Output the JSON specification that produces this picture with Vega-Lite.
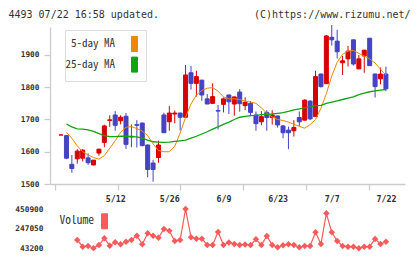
{
  "$schema": "https://vega.github.io/schema/vega-lite/v6.json",
  "width": 355,
  "height": 224,
  "autosize": {"type": "none"},
  "padding": {"left": 50, "top": 27, "right": 15, "bottom": 8},
  "background": "white",
  "config": {
    "view": {"stroke": null},
    "font": "DejaVu Sans Mono",
    "axis": {"grid": false}
  },
  "data": {
    "values": [
      {"n": 0, "d": "4/23", "o": 1652, "h": 1652, "l": 1652, "c": 1652, "v": null, "ma5": null, "ma25": null},
      {"n": 1, "d": "4/24", "o": 1650, "h": 1651, "l": 1577, "c": 1580, "v": null, "ma5": 1660, "ma25": 1686},
      {"n": 2, "d": "4/25", "o": 1561, "h": 1590, "l": 1535, "c": 1548, "v": null, "ma5": 1642, "ma25": 1677},
      {"n": 3, "d": "4/28", "o": 1578, "h": 1608, "l": 1563, "c": 1602, "v": 129300, "ma5": 1618, "ma25": 1671},
      {"n": 4, "d": "4/30", "o": 1580, "h": 1608, "l": 1570, "c": 1605, "v": 59800, "ma5": 1600, "ma25": 1670},
      {"n": 5, "d": "5/1", "o": 1581, "h": 1595, "l": 1559, "c": 1566, "v": 67100, "ma5": 1590, "ma25": 1668},
      {"n": 6, "d": "5/2", "o": 1559, "h": 1574, "l": 1558, "c": 1574, "v": 45000, "ma5": 1582, "ma25": 1663},
      {"n": 7, "d": "5/7", "o": 1596, "h": 1609, "l": 1588, "c": 1608, "v": 77400, "ma5": 1577, "ma25": 1656},
      {"n": 8, "d": "5/8", "o": 1629, "h": 1684, "l": 1614, "c": 1680, "v": 146900, "ma5": 1588, "ma25": 1650},
      {"n": 9, "d": "5/9", "o": 1697, "h": 1713, "l": 1677, "c": 1699, "v": 70200, "ma5": 1611, "ma25": 1647},
      {"n": 10, "d": "5/12", "o": 1714, "h": 1726, "l": 1665, "c": 1682, "v": 105400, "ma5": 1634, "ma25": 1647},
      {"n": 11, "d": "5/13", "o": 1696, "h": 1713, "l": 1685, "c": 1707, "v": 84700, "ma5": 1660, "ma25": 1648},
      {"n": 12, "d": "5/14", "o": 1710, "h": 1720, "l": 1609, "c": 1623, "v": 111700, "ma5": 1676, "ma25": 1648},
      {"n": 13, "d": "5/15", "o": 1648, "h": 1685, "l": 1614, "c": 1646, "v": 129300, "ma5": 1678, "ma25": 1647},
      {"n": 14, "d": "5/16", "o": 1684, "h": 1698, "l": 1613, "c": 1682, "v": 173900, "ma5": 1672, "ma25": 1646},
      {"n": 15, "d": "5/19", "o": 1689, "h": 1690, "l": 1617, "c": 1619, "v": 84700, "ma5": 1664, "ma25": 1642},
      {"n": 16, "d": "5/20", "o": 1621, "h": 1622, "l": 1521, "c": 1545, "v": 198800, "ma5": 1650, "ma25": 1636},
      {"n": 17, "d": "5/21", "o": 1565, "h": 1575, "l": 1507, "c": 1545, "v": 173900, "ma5": 1624, "ma25": 1631},
      {"n": 18, "d": "5/22", "o": 1582, "h": 1634, "l": 1566, "c": 1621, "v": 153200, "ma5": 1604, "ma25": 1630},
      {"n": 19, "d": "5/23", "o": 1714, "h": 1721, "l": 1659, "c": 1659, "v": 243400, "ma5": 1600, "ma25": 1629},
      {"n": 20, "d": "5/26", "o": 1693, "h": 1742, "l": 1665, "c": 1720, "v": 224000, "ma5": 1600, "ma25": 1630},
      {"n": 21, "d": "5/27", "o": 1717, "h": 1728, "l": 1688, "c": 1720, "v": 118900, "ma5": 1617, "ma25": 1632},
      {"n": 22, "d": "5/28", "o": 1720, "h": 1721, "l": 1666, "c": 1707, "v": 129300, "ma5": 1658, "ma25": 1634},
      {"n": 23, "d": "5/29", "o": 1707, "h": 1869, "l": 1706, "c": 1838, "v": 450900, "ma5": 1707, "ma25": 1636},
      {"n": 24, "d": "5/30", "o": 1845, "h": 1866, "l": 1793, "c": 1812, "v": 157300, "ma5": 1748, "ma25": 1642},
      {"n": 25, "d": "6/2", "o": 1812, "h": 1851, "l": 1771, "c": 1833, "v": 142800, "ma5": 1776, "ma25": 1648},
      {"n": 26, "d": "6/3", "o": 1822, "h": 1823, "l": 1758, "c": 1776, "v": 142800, "ma5": 1790, "ma25": 1655},
      {"n": 27, "d": "6/4", "o": 1764, "h": 1779, "l": 1748, "c": 1748, "v": 77400, "ma5": 1797, "ma25": 1662},
      {"n": 28, "d": "6/5", "o": 1750, "h": 1812, "l": 1750, "c": 1771, "v": 77400, "ma5": 1799, "ma25": 1670},
      {"n": 29, "d": "6/6", "o": 1728, "h": 1745, "l": 1669, "c": 1726, "v": 212300, "ma5": 1788, "ma25": 1677},
      {"n": 30, "d": "6/9", "o": 1747, "h": 1768, "l": 1722, "c": 1764, "v": 77400, "ma5": 1770, "ma25": 1685},
      {"n": 31, "d": "6/10", "o": 1776, "h": 1777, "l": 1717, "c": 1755, "v": 103400, "ma5": 1764, "ma25": 1692},
      {"n": 32, "d": "6/11", "o": 1748, "h": 1771, "l": 1712, "c": 1770, "v": 87800, "ma5": 1764, "ma25": 1700},
      {"n": 33, "d": "6/12", "o": 1785, "h": 1794, "l": 1724, "c": 1749, "v": 77400, "ma5": 1762, "ma25": 1707},
      {"n": 34, "d": "6/13", "o": 1743, "h": 1769, "l": 1729, "c": 1753, "v": 82600, "ma5": 1757, "ma25": 1710},
      {"n": 35, "d": "6/16", "o": 1750, "h": 1757, "l": 1710, "c": 1722, "v": 77400, "ma5": 1754, "ma25": 1712},
      {"n": 36, "d": "6/17", "o": 1714, "h": 1725, "l": 1665, "c": 1687, "v": 136600, "ma5": 1750, "ma25": 1713},
      {"n": 37, "d": "6/18", "o": 1693, "h": 1726, "l": 1682, "c": 1709, "v": 77400, "ma5": 1736, "ma25": 1715},
      {"n": 38, "d": "6/19", "o": 1722, "h": 1729, "l": 1665, "c": 1706, "v": 170800, "ma5": 1720, "ma25": 1716},
      {"n": 39, "d": "6/20", "o": 1706, "h": 1729, "l": 1684, "c": 1714, "v": 77400, "ma5": 1708, "ma25": 1717},
      {"n": 40, "d": "6/23", "o": 1711, "h": 1712, "l": 1675, "c": 1683, "v": 53600, "ma5": 1700, "ma25": 1719},
      {"n": 41, "d": "6/24", "o": 1680, "h": 1683, "l": 1642, "c": 1659, "v": 74300, "ma5": 1697, "ma25": 1721},
      {"n": 42, "d": "6/25", "o": 1667, "h": 1678, "l": 1608, "c": 1659, "v": 85700, "ma5": 1692, "ma25": 1725},
      {"n": 43, "d": "6/26", "o": 1665, "h": 1698, "l": 1647, "c": 1675, "v": 77400, "ma5": 1685, "ma25": 1730},
      {"n": 44, "d": "6/27", "o": 1706, "h": 1725, "l": 1680, "c": 1693, "v": 53600, "ma5": 1679, "ma25": 1733},
      {"n": 45, "d": "6/30", "o": 1698, "h": 1763, "l": 1697, "c": 1760, "v": 67100, "ma5": 1673, "ma25": 1736},
      {"n": 46, "d": "7/1", "o": 1757, "h": 1760, "l": 1698, "c": 1702, "v": 67100, "ma5": 1684, "ma25": 1739},
      {"n": 47, "d": "7/2", "o": 1709, "h": 1851, "l": 1708, "c": 1833, "v": 209200, "ma5": 1700, "ma25": 1742},
      {"n": 48, "d": "7/3", "o": 1841, "h": 1842, "l": 1799, "c": 1802, "v": 87800, "ma5": 1735, "ma25": 1744},
      {"n": 49, "d": "7/4", "o": 1811, "h": 1962, "l": 1810, "c": 1959, "v": 406300, "ma5": 1780, "ma25": 1750},
      {"n": 50, "d": "7/7", "o": 1955, "h": 1993, "l": 1929, "c": 1947, "v": 209200, "ma5": 1835, "ma25": 1754},
      {"n": 51, "d": "7/8", "o": 1943, "h": 1978, "l": 1889, "c": 1910, "v": 118900, "ma5": 1878, "ma25": 1758},
      {"n": 52, "d": "7/9", "o": 1876, "h": 1897, "l": 1838, "c": 1882, "v": 67100, "ma5": 1902, "ma25": 1762},
      {"n": 53, "d": "7/10", "o": 1888, "h": 1928, "l": 1864, "c": 1912, "v": 59800, "ma5": 1912, "ma25": 1766},
      {"n": 54, "d": "7/11", "o": 1947, "h": 1948, "l": 1867, "c": 1872, "v": 59800, "ma5": 1914, "ma25": 1770},
      {"n": 55, "d": "7/14", "o": 1857, "h": 1900, "l": 1856, "c": 1888, "v": 43200, "ma5": 1905, "ma25": 1777},
      {"n": 56, "d": "7/15", "o": 1897, "h": 1916, "l": 1845, "c": 1915, "v": 59800, "ma5": 1897, "ma25": 1782},
      {"n": 57, "d": "7/16", "o": 1952, "h": 1953, "l": 1866, "c": 1867, "v": 59800, "ma5": 1888, "ma25": 1786},
      {"n": 58, "d": "7/17", "o": 1841, "h": 1842, "l": 1768, "c": 1802, "v": 139700, "ma5": 1875, "ma25": 1789},
      {"n": 59, "d": "7/18", "o": 1826, "h": 1861, "l": 1809, "c": 1841, "v": 87800, "ma5": 1856, "ma25": 1791},
      {"n": 60, "d": "7/22", "o": 1841, "h": 1864, "l": 1788, "c": 1795, "v": 111700, "ma5": 1838, "ma25": 1793}
    ]
  },
  "layer": [
    {
      "layer": [
        {
          "mark": {"type": "rule", "strokeWidth": 1},
          "encoding": {
            "x": {
              "field": "n", "type": "quantitative",
              "scale": {"domain": [-1.113, 62.6], "nice": false, "zero": false},
              "axis": {
                "orient": "bottom", "offset": -67,
                "values": [10, 20, 30, 40, 50, 60],
                "labelExpr": "['5/12','5/26','6/9','6/23','7/7','7/22'][datum.value / 10 - 1]",
                "ticks": false, "domainColor": "#cccccc", "domainWidth": 1.3,
                "labelPadding": 10, "labelFont": "DejaVu Sans Mono", "labelFontSize": 8.3,
                "labelFontWeight": "bold", "labelColor": "#333333", "title": null
              }
            },
            "y": {
              "field": "l", "type": "quantitative",
              "scale": {"domain": [1500, 1986.8], "range": [157, 0], "nice": false, "zero": false},
              "axis": {
                "orient": "left",
                "values": [1500, 1600, 1700, 1800, 1900], "format": "d",
                "domainColor": "#cccccc", "domainWidth": 1.3,
                "tickColor": "#cccccc", "tickWidth": 1.3, "tickSize": 6,
                "labelPadding": 5, "labelFont": "DejaVu Sans Mono", "labelFontSize": 7.8,
                "labelFontWeight": "bold", "labelColor": "#333333",
                "title": "4493 07/22 16:58 updated.", "titleAngle": 0, "titleAlign": "left",
                "titleBaseline": "alphabetic", "titleX": -42, "titleY": -10,
                "titleFont": "DejaVu Sans Mono", "titleFontSize": 10, "titleFontWeight": "normal",
                "titleColor": "#333333"
              }
            },
            "y2": {"field": "h"},
            "color": {"condition": {"test": "datum.c >= datum.o", "value": "#d80000"}, "value": "#4343c3"}
          }
        },
        {
          "mark": {"type": "bar", "size": 4, "strokeWidth": 1},
          "encoding": {
            "x": {"field": "n", "type": "quantitative"},
            "y": {"field": "o", "type": "quantitative"},
            "y2": {"field": "c"},
            "color": {"condition": {"test": "datum.c >= datum.o", "value": "#d80000"}, "value": "#4343c3"},
            "stroke": {"condition": {"test": "datum.c >= datum.o", "value": "#d80000"}, "value": "#4343c3"}
          }
        },
        {
          "mark": {"type": "line", "strokeWidth": 1},
          "encoding": {
            "x": {"field": "n", "type": "quantitative"},
            "y": {"field": "ma5", "type": "quantitative"},
            "color": {
              "datum": "5-day MA",
              "scale": {"domain": ["5-day MA", "25-day MA"], "range": ["#ee8800", "#11a311"]},
              "legend": {
                "orient": "none", "legendX": 15, "legendY": 3,
                "title": null, "direction": "vertical",
                "padding": 6, "rowPadding": 0.6,
                "fillColor": "white", "strokeColor": "#dddddd",
                "symbolType": "M-0.4,-1L0.4,-1L0.4,1L-0.4,1Z", "symbolSize": 225,
                "symbolOffset": 55.5, "labelOffset": -27.5, "labelAlign": "right", "labelBaseline": "middle",
                "labelFont": "Noto Sans Mono CJK JP", "labelFontSize": 11, "labelColor": "#333333",
                "encode": {
                  "symbols": {
                    "update": {
                      "fill": {"signal": "datum.value === '5-day MA' ? '#ee8800' : '#11a311'"},
                      "stroke": {"value": "#333333"},
                      "strokeWidth": {"value": 1},
                      "opacity": {"value": 1}
                    }
                  }
                }
              }
            }
          }
        },
        {
          "mark": {"type": "line", "strokeWidth": 1.3},
          "encoding": {
            "x": {"field": "n", "type": "quantitative"},
            "y": {"field": "ma25", "type": "quantitative"},
            "color": {"datum": "25-day MA"}
          }
        }
      ]
    },
    {
      "layer": [
        {
          "mark": {"type": "line", "strokeWidth": 1.2},
          "encoding": {
            "x": {
              "field": "n", "type": "quantitative",
              "scale": {"domain": [-1.113, 62.6], "nice": false, "zero": false},
              "axis": {
                "orient": "bottom", "offset": -67,
                "values": [-1.113, 4.679, 10.47, 16.26, 22.05, 27.85, 33.64, 39.43, 45.22, 51.01, 56.8, 62.6],
                "labels": false, "domain": false, "ticks": true,
                "tickSize": 6, "tickColor": "#cccccc", "tickWidth": 1.3, "title": null
              }
            },
            "y": {
              "field": "v", "type": "quantitative",
              "scale": {"domain": [43200, 450900], "range": [221.3, 182], "nice": false, "zero": false},
              "axis": {
                "orient": "left",
                "values": [43200, 247050, 450900], "format": "d",
                "domain": false, "ticks": false, "labelPadding": 7,
                "labelFont": "DejaVu Sans Mono", "labelFontSize": 7.8, "labelFontWeight": "bold",
                "labelColor": "#333333", "labelBaseline": "middle",
                "title": "(C)https://www.rizumu.net/", "titleAngle": 0, "titleAlign": "right",
                "titleBaseline": "alphabetic", "titleX": 360, "titleY": -10,
                "titleFont": "DejaVu Sans Mono", "titleFontSize": 10, "titleFontWeight": "normal",
                "titleColor": "#333333"
              }
            },
            "color": {
              "datum": "Volume",
              "scale": {"domain": ["Volume"], "range": ["#fa5a5a"]},
              "legend": {
                "orient": "none", "legendX": 0, "legendY": 186.3,
                "title": null, "padding": 0,
                "symbolType": "M-0.4,-1L0.4,-1L0.4,1L-0.4,1Z", "symbolSize": 225,
                "symbolOffset": 46.5, "labelOffset": -18.5, "labelAlign": "right", "labelBaseline": "middle",
                "labelFont": "Noto Sans Mono CJK JP", "labelFontSize": 11.5, "labelColor": "#333333",
                "encode": {
                  "symbols": {
                    "update": {
                      "fill": {"value": "#fa5a5a"},
                      "stroke": {"value": "#333333"},
                      "strokeWidth": {"value": 1},
                      "opacity": {"value": 1}
                    }
                  }
                }
              }
            }
          }
        },
        {
          "mark": {"type": "point", "shape": "diamond", "filled": true, "size": 42, "opacity": 1},
          "encoding": {
            "x": {"field": "n", "type": "quantitative"},
            "y": {"field": "v", "type": "quantitative"},
            "color": {"datum": "Volume"}
          }
        }
      ]
    }
  ],
  "resolve": {
    "scale": {"y": "independent", "color": "independent"},
    "axis": {"x": "independent", "y": "independent"},
    "legend": {"color": "independent"}
  }
}
